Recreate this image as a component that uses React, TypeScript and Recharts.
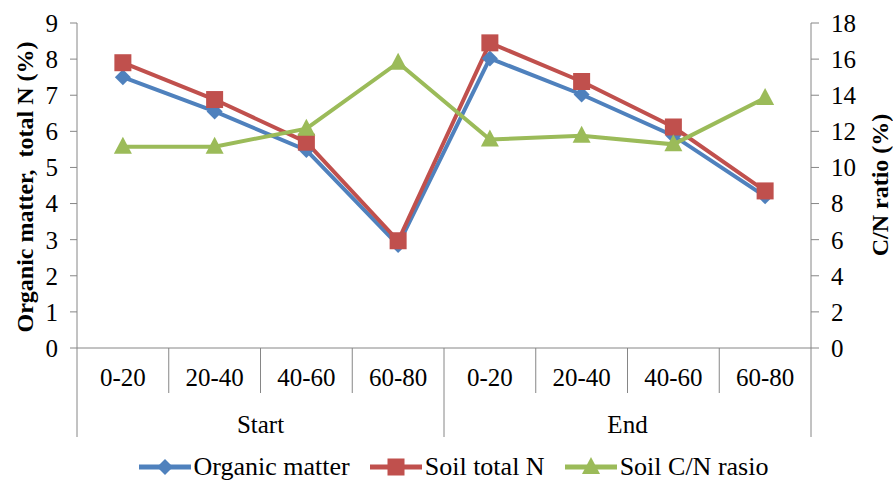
import {
  LineChart,
  Line,
  XAxis,
  YAxis,
  Legend,
} from 'recharts'

const depths = ['0-20', '20-40', '40-60', '60-80', '0-20', '20-40', '40-60', '60-80']
const groups = ['Start', 'Start', 'Start', 'Start', 'End', 'End', 'End', 'End']
const organicMatter = [7.5, 6.55, 5.48, 2.85, 8.02, 7.02, 5.88, 4.2]
const soilTotalN = [7.9, 6.88, 5.7, 2.97, 8.45, 7.38, 6.12, 4.35]
const soilCNRatio = [11.15, 11.15, 12.15, 15.8, 11.55, 11.75, 11.28, 13.85]
const leftTicks = [0, 1, 2, 3, 4, 5, 6, 7, 8, 9]
const rightTicks = [0, 2, 4, 6, 8, 10, 12, 14, 16, 18]

const W = 893
const H = 482
const LEFT_W = 77
const RIGHT_W = 82
const BAND = (W - LEFT_W - RIGHT_W) / depths.length

const FONT = '"Liberation Serif", "Times New Roman", serif'
const AXIS = '#868686'
const BLUE = '#4F81BD'
const RED = '#C0504D'
const GREEN = '#9BBB59'

const data = depths.map((depth, i) => ({
  idx: i,
  depth,
  group: groups[i],
  om: organicMatter[i],
  tn: soilTotalN[i],
  cn: soilCNRatio[i],
}))

const Diamond = ({ cx, cy, fill }: any) => (
  <polygon
    points={`${cx},${cy - 8} ${cx + 8},${cy} ${cx},${cy + 8} ${cx - 8},${cy}`}
    fill={fill}
  />
)

const Square = ({ cx, cy, fill }: any) => (
  <rect x={cx - 8.5} y={cy - 8.5} width={17} height={17} fill={fill} />
)

const Triangle = ({ cx, cy, fill }: any) => (
  <polygon
    points={`${cx},${cy - 10} ${cx + 9},${cy + 7} ${cx - 9},${cy + 7}`}
    fill={fill}
  />
)

// first level: depth ranges, with separators between every category
function DepthTick({ x, y, payload }: any) {
  const i = payload.value
  return (
    <g>
      <line x1={x - BAND / 2} x2={x - BAND / 2} y1={y} y2={y + 45} stroke={AXIS} />
      {i === depths.length - 1 && (
        <line x1={x + BAND / 2} x2={x + BAND / 2} y1={y} y2={y + 45} stroke={AXIS} />
      )}
      <text
        x={x}
        y={y + 38}
        textAnchor="middle"
        fontFamily={FONT}
        fontSize={25}
        fill="#000"
      >
        {depths[i]}
      </text>
    </g>
  )
}

// second level: Start / End, one label per group of four
function GroupTick({ x, y, payload }: any) {
  const i = payload.value
  if (i % 4 !== 0) return <g />
  const last = i + 4 >= groups.length
  return (
    <g>
      <line x1={x - BAND / 2} x2={x - BAND / 2} y1={y + 45} y2={y + 89} stroke={AXIS} />
      {last && (
        <line
          x1={x + BAND * 3.5}
          x2={x + BAND * 3.5}
          y1={y + 45}
          y2={y + 89}
          stroke={AXIS}
        />
      )}
      <text
        x={x + BAND * 1.5}
        y={y + 85}
        textAnchor="middle"
        fontFamily={FONT}
        fontSize={25}
        fill="#000"
      >
        {groups[i]}
      </text>
    </g>
  )
}

function BothTicks(props: any) {
  return (
    <g>
      <DepthTick {...props} />
      <GroupTick {...props} />
    </g>
  )
}

function AxisTitle({ text, cx, cy }: any) {
  return (
    <text
      x={cx}
      y={cy}
      transform={`rotate(-90 ${cx} ${cy})`}
      textAnchor="middle"
      dominantBaseline="central"
      fontFamily={FONT}
      fontSize={24}
      fontWeight="bold"
      fill="#000"
      style={{ whiteSpace: 'pre' }}
    >
      {text}
    </text>
  )
}

const legendItems = [
  { name: 'Organic matter', color: BLUE, Shape: Diamond },
  { name: 'Soil total N', color: RED, Shape: Square },
  { name: 'Soil C/N rasio', color: GREEN, Shape: Triangle },
]

function LegendContent() {
  return (
    <div
      style={{
        display: 'flex',
        justifyContent: 'center',
        alignItems: 'center',
        height: 30,
        paddingLeft: 14,
        fontFamily: FONT,
        fontSize: 26,
        lineHeight: '30px',
        color: '#000',
      }}
    >
      {legendItems.map((item, i) => (
        <div
          key={item.name}
          style={{
            display: 'flex',
            alignItems: 'center',
            marginLeft: i === 0 ? 0 : 20,
          }}
        >
          <svg width={52} height={20} style={{ marginRight: 3 }}>
            <line x1={0} x2={52} y1={10} y2={10} stroke={item.color} strokeWidth={5} />
            <item.Shape cx={26} cy={10} fill={item.color} />
          </svg>
          <span>{item.name}</span>
        </div>
      ))}
    </div>
  )
}

export default function App() {
  return (
    <div
      style={{
        position: 'absolute',
        left: 0,
        top: 0,
        background: '#fff',
        fontFamily: FONT,
      }}
    >
      <LineChart
        width={W}
        height={H}
        data={data}
        margin={{ top: 23, right: 0, bottom: 0, left: 0 }}
      >
        <XAxis
          dataKey="idx"
          type="category"
          height={104}
          padding={{ left: BAND / 2, right: BAND / 2 }}
          axisLine={{ stroke: AXIS }}
          tickLine={false}
          tickSize={0}
          tickMargin={0}
          interval={0}
          tick={<BothTicks />}
        />
        <YAxis
          yAxisId="left"
          orientation="left"
          width={LEFT_W}
          domain={[0, 9]}
          ticks={leftTicks}
          interval={0}
          axisLine={{ stroke: AXIS }}
          tickLine={{ stroke: AXIS }}
          tickSize={7}
          tickMargin={12}
          tick={{ fontFamily: FONT, fontSize: 25, fill: '#000' }}
          label={<AxisTitle text="Organic matter,  total N (%)" cx={25} cy={187} />}
        />
        <YAxis
          yAxisId="right"
          orientation="right"
          width={RIGHT_W}
          domain={[0, 18]}
          ticks={rightTicks}
          interval={0}
          axisLine={{ stroke: AXIS }}
          tickLine={{ stroke: AXIS }}
          tickSize={8}
          tickMargin={12}
          tick={{ fontFamily: FONT, fontSize: 25, fill: '#000' }}
          label={<AxisTitle text="C/N ratio (%)" cx={880} cy={185} />}
        />
        <Legend
          verticalAlign="bottom"
          content={<LegendContent />}
          wrapperStyle={{ height: 30 }}
        />
        <Line
          yAxisId="left"
          type="linear"
          dataKey="om"
          name="Organic matter"
          stroke={BLUE}
          strokeWidth={4}
          dot={(p: any) => <Diamond key={`om-${p.index}`} cx={p.cx} cy={p.cy} fill={BLUE} />}
          activeDot={false}
          isAnimationActive={false}
        />
        <Line
          yAxisId="left"
          type="linear"
          dataKey="tn"
          name="Soil total N"
          stroke={RED}
          strokeWidth={4}
          dot={(p: any) => <Square key={`tn-${p.index}`} cx={p.cx} cy={p.cy} fill={RED} />}
          activeDot={false}
          isAnimationActive={false}
        />
        <Line
          yAxisId="right"
          type="linear"
          dataKey="cn"
          name="Soil C/N rasio"
          stroke={GREEN}
          strokeWidth={4}
          dot={(p: any) => <Triangle key={`cn-${p.index}`} cx={p.cx} cy={p.cy} fill={GREEN} />}
          activeDot={false}
          isAnimationActive={false}
        />
      </LineChart>
    </div>
  )
}
